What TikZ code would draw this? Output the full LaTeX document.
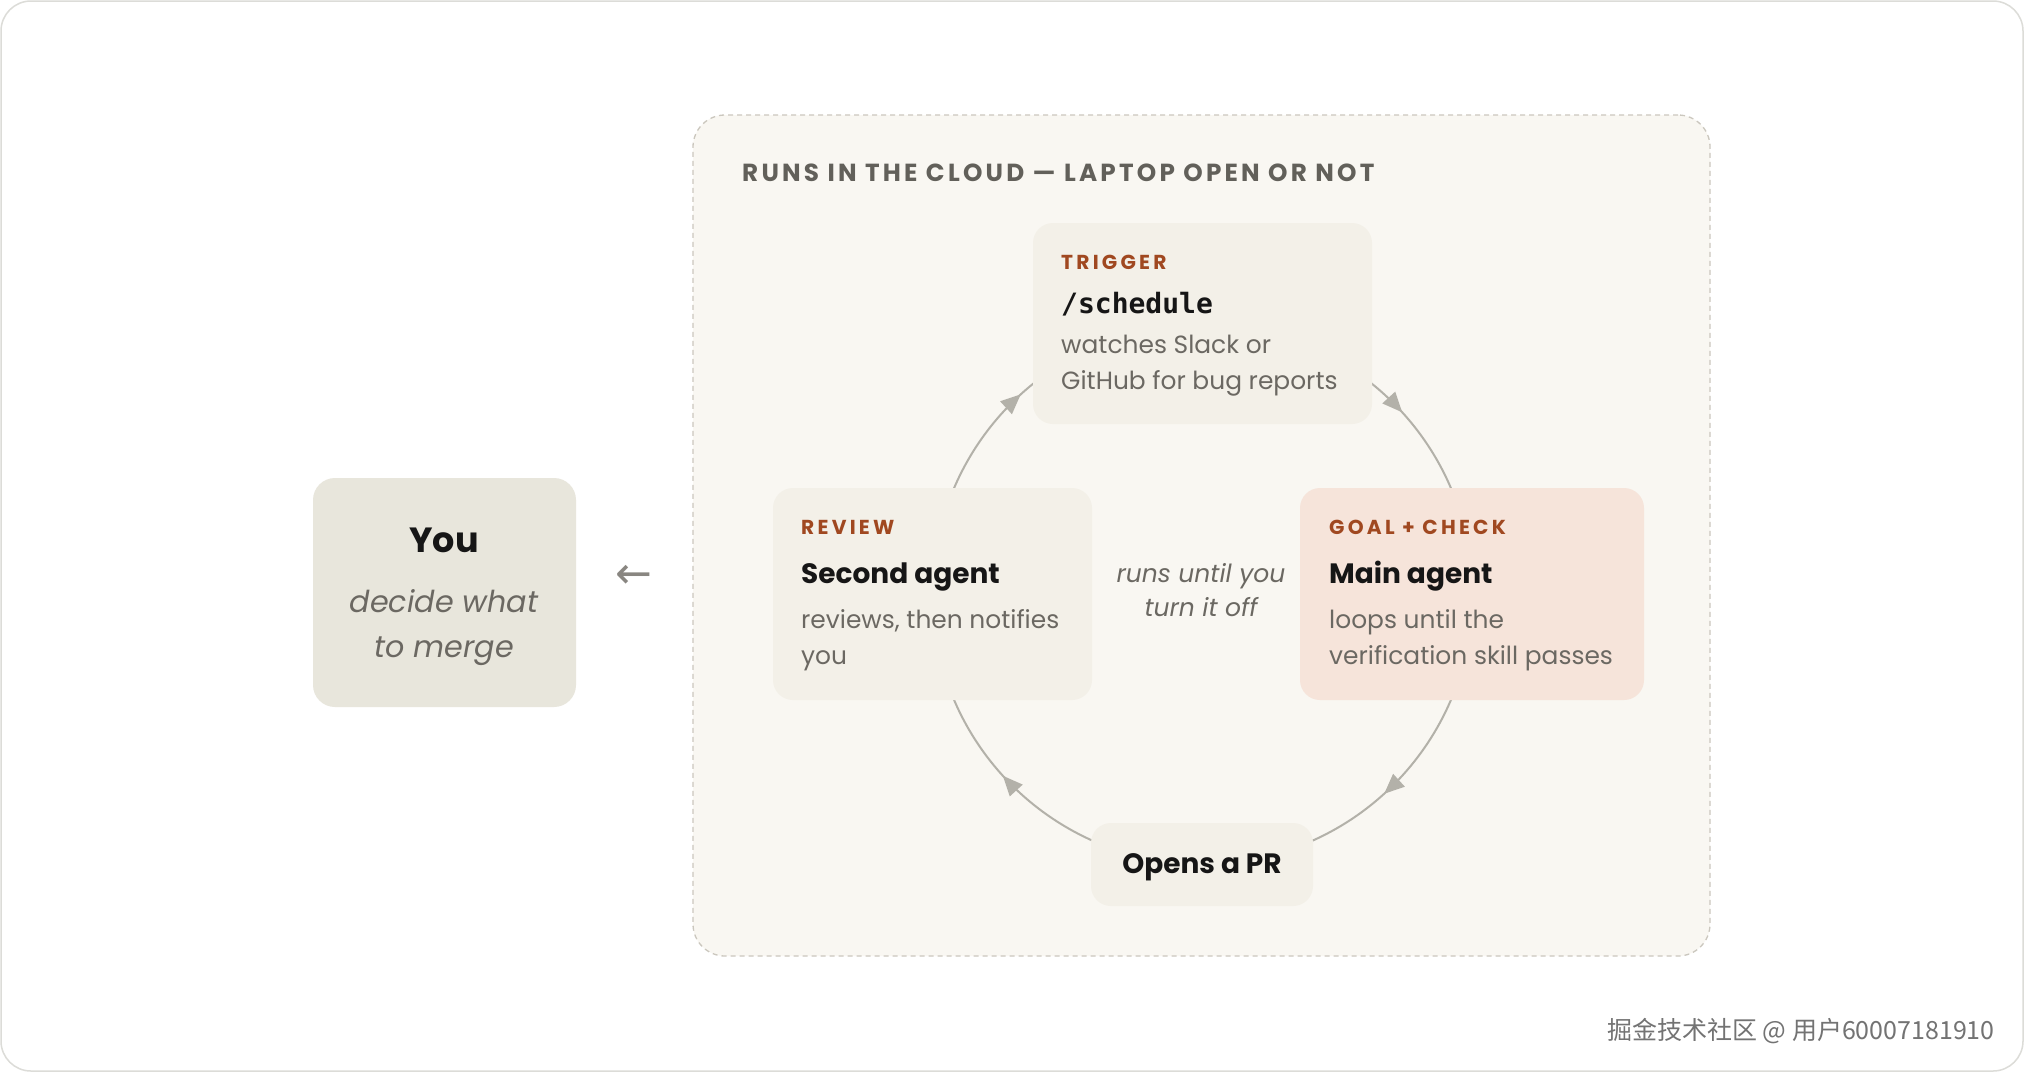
\documentclass[tikz,border=0pt]{standalone}
\usepackage{fontspec}
\setmainfont{Poppins}
\newfontfamily\monof{DejaVu Sans Mono}
\newfontfamily\symf{DejaVu Sans}
\newfontfamily\lblf{Poppins}[LetterSpace=16]
\newfontfamily\ttlf{Poppins}[LetterSpace=13]
\newfontfamily\cjk{Noto Sans CJK SC}
\usetikzlibrary{decorations.markings,arrows.meta,calc}
\definecolor{framec}{HTML}{DCDCD8}
\definecolor{cloudbg}{HTML}{F9F7F2}
\definecolor{cloudln}{HTML}{CBC7BE}
\definecolor{boxbg}{HTML}{F3F0E8}
\definecolor{goalbg}{HTML}{F6E4DA}
\definecolor{youbg}{HTML}{E8E6DC}
\definecolor{accent}{HTML}{A04820}
\definecolor{ink}{HTML}{161616}
\definecolor{muted}{HTML}{6B6862}
\definecolor{linec}{HTML}{B3B1A9}
\pgfdeclarelayer{back}
\pgfdeclarelayer{mid}
\pgfsetlayers{back,mid,main}
\tikzset{
  card/.style={rectangle, rounded corners=20, draw=none, inner sep=0},
  lbl/.style={anchor=base west, inner sep=0, text=accent, font=\lblf\bfseries\fontsize{20.2}{20.2}\selectfont},
  ttl/.style={anchor=base west, inner sep=0, text=ink, font=\bfseries\fontsize{28}{28}\selectfont},
  body/.style={anchor=base west, inner sep=0, text=muted, font=\fontsize{24.9}{24.9}\selectfont},
  note/.style={anchor=base, inner sep=0, text=muted, font=\itshape\fontsize{25}{25}\selectfont},
  flow/.style={draw=linec, line width=2, postaction={decorate},
    decoration={markings, mark=at position 0.53 with {\arrow{Triangle[length=20pt,width=17pt]}}}},
}
\begin{document}
\begin{tikzpicture}[x=1pt,y=1pt]
\useasboundingbox (0,0) rectangle (2024,-1072);
\begin{pgfonlayer}{back}
\fill[white] (0,0) rectangle (2024,-1072);
\draw[framec, line width=1.5, rounded corners=30] (1,-1) rectangle (2023,-1071);
\node[card, rounded corners=32, fill=cloudbg, draw=cloudln, line width=1.3, dash pattern=on 5pt off 4pt,
  minimum width=1017, minimum height=841] (cloud) at (1201.5,-535.5) {};
\end{pgfonlayer}
\node[ttl, anchor=base west, text=muted!92!black, font=\ttlf\bfseries\fontsize{24.7}{24.7}\selectfont] (title) at (742,-181) {RUNS IN THE CLOUD — LAPTOP OPEN OR NOT};
% boxes
\node[card, fill=boxbg, minimum width=339, minimum height=201] (trig) at (1202.5,-323.5) {};
\node[card, fill=boxbg, minimum width=319, minimum height=212] (rev) at (932.5,-594) {};
\node[card, fill=goalbg, minimum width=344, minimum height=212] (goal) at (1472,-594) {};
\node[card, fill=boxbg, minimum width=222, minimum height=83] (pr) at (1202,-864.5) {};
\node[card, fill=youbg, rounded corners=22, minimum width=263, minimum height=229] (you) at (444.5,-592.5) {};
% loop connectors
\coordinate (c) at (trig.center |- rev.center);
\begin{pgfonlayer}{mid}
\draw[flow] ([shift={(180:270)}]c) arc[start angle=180, end angle=90, radius=270];
\draw[flow] ([shift={(90:270)}]c) arc[start angle=90, end angle=0, radius=270];
\draw[flow] ([shift={(0:270)}]c) arc[start angle=0, end angle=-90, radius=270];
\draw[flow] ([shift={(-90:270)}]c) arc[start angle=-90, end angle=-180, radius=270];
\end{pgfonlayer}
% trigger
\node[lbl] (trigL) at (1061,-269) {TRIGGER};
\node[ttl, font=\monof\bfseries\fontsize{28}{28}\selectfont] (trigT) at (1061,-313) {/schedule};
\node[body] (trigB1) at (1061,-353) {watches Slack or};
\node[body] (trigB2) at (1061,-389) {GitHub for bug reports};
% review
\node[lbl] (revL) at (801,-534) {REVIEW};
\node[ttl] (revT) at (801,-583) {Second agent};
\node[body] (revB1) at (801,-628) {reviews, then notifies};
\node[body] (revB2) at (801,-664) {you};
% goal
\node[lbl] (goalL) at (1329,-534) {GOAL + CHECK};
\node[ttl] (goalT) at (1329,-583) {Main agent};
\node[body] (goalB1) at (1329,-628) {loops until the};
\node[body] (goalB2) at (1329,-664) {verification skill passes};
% PR
\node[ttl, anchor=base] (prT) at (1202,-873) {Opens a PR};
% centre note
\node[note] (n1) at (1201,-582) {runs until you};
\node[note] (n2) at (1201,-616) {turn it off};
% you
\node[ttl, anchor=base, font=\bfseries\fontsize{35}{35}\selectfont] (youT) at (444,-552) {You};
\node[note, font=\itshape\fontsize{30.2}{30.2}\selectfont] (youB1) at (444,-612) {decide what};
\node[note, font=\itshape\fontsize{30.2}{30.2}\selectfont] (youB2) at (444,-657) {to merge};
\node[inner sep=0, text=muted!80, font=\symf\fontsize{44}{44}\selectfont] (back) at (634,-577) {←};
% watermark
\node[anchor=base west, inner sep=0, text=black!55, font=\cjk\fontsize{25}{25}\selectfont] (wm) at (1607,-1039) {掘金技术社区 @ 用户60007181910};
\end{tikzpicture}
\end{document}
